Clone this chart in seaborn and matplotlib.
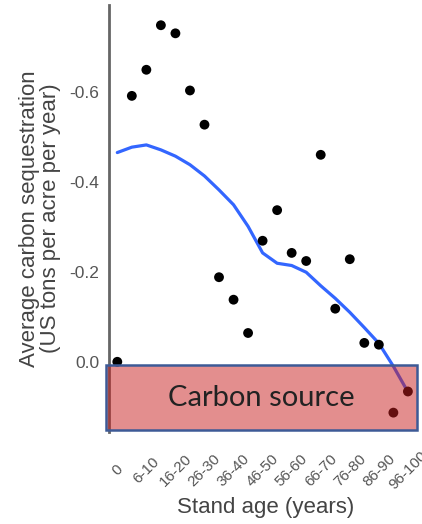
import numpy as np
import pandas as pd
import matplotlib
matplotlib.use("Agg")
import matplotlib.pyplot as plt
from matplotlib.patches import Rectangle
import seaborn as sns

# stand age classes (21 bins, every other one labelled)
age_bins = ["0", "1-5", "6-10", "11-15", "16-20", "21-25", "26-30", "31-35",
            "36-40", "41-45", "46-50", "51-55", "56-60", "61-65", "66-70",
            "71-75", "76-80", "81-85", "86-90", "91-95", "96-100"]

# average carbon sequestration per bin (negative = uptake)
sequestration = [0.0, -0.591, -0.649, -0.748, -0.730, -0.603, -0.527, -0.188,
                 -0.138, -0.064, -0.269, -0.337, -0.242, -0.224, -0.460,
                 -0.118, -0.228, -0.042, -0.038, 0.113, 0.066]

# smoothed trend
trend = [-0.465, -0.477, -0.482, -0.471, -0.457, -0.438, -0.413, -0.382,
         -0.349, -0.301, -0.242, -0.219, -0.214, -0.199, -0.169, -0.141,
         -0.110, -0.076, -0.041, 0.010, 0.067]

y_ticks = [0.0, -0.2, -0.4, -0.6]
y_tick_labels = ["0.0", "-0.2", "-0.4", "-0.6"]

# carbon source band
band_x = (-0.78, 20.63)
band_y = (0.008, 0.151)
band_label = "Carbon source"

df = pd.DataFrame({"age": age_bins, "seq": sequestration, "trend": trend})
df["pos"] = np.arange(len(df))

sns.set_style("white")
plt.rcParams["font.family"] = ["Liberation Sans", "DejaVu Sans"]

fig = plt.figure(figsize=(4.22, 5.24), dpi=100)
ax = fig.add_axes([0.2583, 0.1756, 0.7417, 0.8149])

sns.lineplot(data=df, x="pos", y="trend", color="#3366ff", linewidth=2.3, ax=ax, zorder=2)
sns.scatterplot(data=df, x="pos", y="seq", color="black", s=50, edgecolor="none", ax=ax, zorder=3)

# shaded carbon source band on top
ax.add_patch(Rectangle((band_x[0], band_y[0]), band_x[1] - band_x[0], band_y[1] - band_y[0],
                       facecolor="#c81e1e", alpha=0.5, edgecolor="none", zorder=4, clip_on=False))
ax.add_patch(Rectangle((band_x[0], band_y[0]), band_x[1] - band_x[0], band_y[1] - band_y[0],
                       facecolor="none", edgecolor="#3d5a96", linewidth=1.8, zorder=5, clip_on=False))
ax.text((band_x[0] + band_x[1]) / 2, (band_y[0] + band_y[1]) / 2, band_label,
        ha="center", va="center", fontsize=21, color="#222222",
        family=["Lato", "DejaVu Sans"], zorder=6)

ax.set_xlim(-0.571, 20.97)
ax.set_ylim(0.156, -0.793)

ax.set_xticks(df["pos"][::2])
ax.set_xticklabels(df["age"][::2], rotation=45, ha="center", va="center",
                   rotation_mode="anchor", fontsize=11, color="#555555")
ax.set_yticks(y_ticks)
ax.set_yticklabels(y_tick_labels, fontsize=12.5, color="#555555")

ax.tick_params(axis="x", length=4.3, width=1.5, color="#555555", pad=23.5)
ax.tick_params(axis="y", length=4, width=1.5, color="#555555", pad=3)

for s in ["top", "right", "bottom"]:
    ax.spines[s].set_visible(False)
ax.spines["left"].set_color("#666666")
ax.spines["left"].set_linewidth(2)

ax.set_xlabel("Stand age (years)", fontsize=16, color="#444444", labelpad=3)
ax.set_ylabel("Average carbon sequestration\n(US tons per acre per year)",
              fontsize=16, color="#444444", labelpad=6, linespacing=1.0)

fig.savefig("out.png", dpi=100)
